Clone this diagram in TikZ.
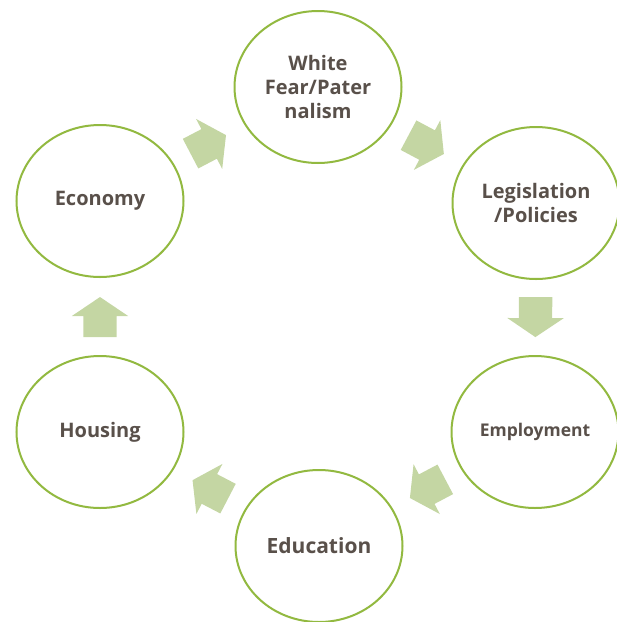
\documentclass[tikz,border=0pt]{standalone}
\usepackage{fontspec}
\setmainfont{Open Sans}
\usetikzlibrary{shapes.geometric, shapes.arrows}
\definecolor{ringgreen}{RGB}{146,185,64}
\definecolor{flowgreen}{RGB}{196,214,163}
\definecolor{labelgray}{RGB}{89,80,74}
\tikzset{
  ring/.style={ellipse, draw=ringgreen, line width=2pt, fill=white,
    minimum width=167pt, minimum height=152pt, inner sep=0pt,
    align=center, text=labelgray, font=\fontsize{20}{24}\selectfont\bfseries},
  flow/.style={single arrow, fill=flowgreen, draw=none, inner xsep=0pt, inner ysep=16.5pt,
    minimum height=40pt, minimum width=56pt, single arrow head extend=11.5pt,
    single arrow tip angle=112, sloped, allow upside down}
}
\begin{document}
\begin{tikzpicture}[x=1pt, y=-1pt]
  \useasboundingbox (0,0) rectangle (617,622);
  % the six stages
  \node [ring] (fear) at (318,87) {White\\Fear/Pater\\nalism};
  \node [ring] (leg) at (536,203) {Legislation\\/Policies};
  \node [ring, font=\fontsize{17.5}{21}\selectfont\bfseries] (emp) at (535,432) {Employment};
  \node [ring, font=\fontsize{21}{25}\selectfont\bfseries] (edu) at (319,546) {Education};
  \node [ring] (hou) at (100,432) {Housing};
  \node [ring] (eco) at (100,201) {Economy};
  % block arrows round the cycle
  \foreach \a/\b in {eco/fear, fear/leg, leg/emp, emp/edu, edu/hou, hou/eco}
  {
    \path (\a) -- node [flow, pos=0.42] {} (\b);
  }
\end{tikzpicture}
\end{document}
